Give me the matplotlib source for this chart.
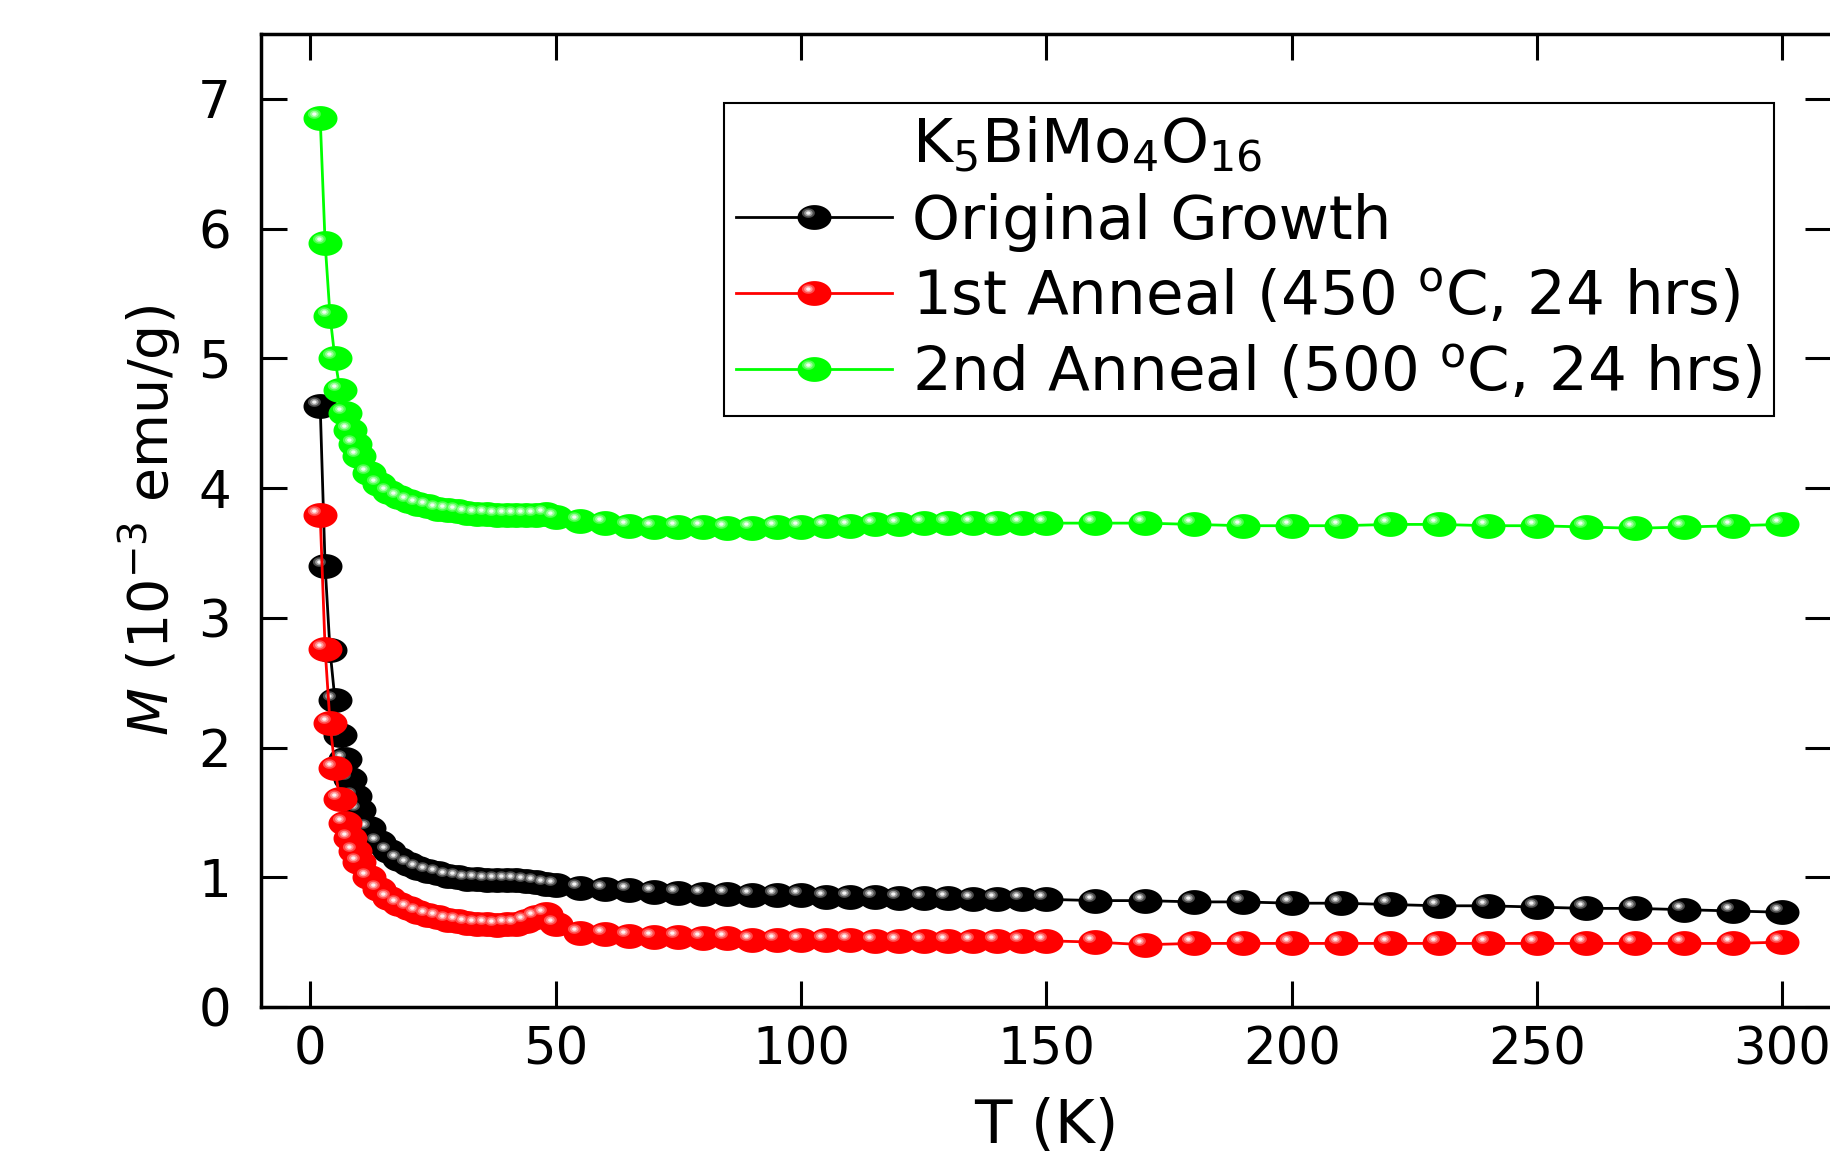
import numpy as np
import matplotlib
matplotlib.use("Agg")
import matplotlib.pyplot as plt
from matplotlib.path import Path
from matplotlib.lines import Line2D
from matplotlib.legend_handler import HandlerTuple
from matplotlib.colors import to_rgb

plt.rcParams['font.family'] = ['DejaVu Sans']
plt.rcParams['mathtext.fontset'] = 'dejavusans'

# temperature grid (K)
T = [2, 3, 4, 5, 6, 7, 8, 9, 10, 12, 14, 16, 18, 20, 22, 24, 26, 28, 30,
     32, 34, 36, 38, 40, 42, 44, 46, 48, 50,
     55, 60, 65, 70, 75, 80, 85, 90, 95, 100, 105, 110, 115, 120, 125,
     130, 135, 140, 145, 150,
     160, 170, 180, 190, 200, 210, 220, 230, 240, 250, 260, 270, 280, 290, 300]

# magnetization (10^-3 emu/g)
m_orig = [4.63, 3.40, 2.75, 2.37, 2.10, 1.91, 1.76, 1.63, 1.52, 1.38, 1.27, 1.20,
          1.14, 1.10, 1.07, 1.05, 1.03, 1.01, 1.00, 0.99, 0.99, 0.98, 0.98, 0.98,
          0.98, 0.97, 0.96, 0.95, 0.94,
          0.92, 0.91, 0.90, 0.89, 0.88, 0.87, 0.87, 0.86, 0.86, 0.86, 0.85, 0.85,
          0.85, 0.84, 0.84, 0.84, 0.83, 0.83, 0.83, 0.83,
          0.82, 0.82, 0.81, 0.81, 0.80, 0.80, 0.79, 0.78, 0.78, 0.77, 0.76, 0.76,
          0.75, 0.74, 0.73]
m_ann1 = [3.79, 2.76, 2.19, 1.84, 1.60, 1.42, 1.30, 1.20, 1.12, 1.00, 0.91, 0.84,
          0.79, 0.76, 0.73, 0.71, 0.69, 0.67, 0.66, 0.65, 0.64, 0.64, 0.63, 0.64,
          0.64, 0.66, 0.69, 0.72, 0.64,
          0.57, 0.56, 0.55, 0.54, 0.54, 0.53, 0.53, 0.52, 0.52, 0.52, 0.52, 0.52,
          0.51, 0.51, 0.51, 0.51, 0.51, 0.51, 0.51, 0.51,
          0.50, 0.48, 0.49, 0.49, 0.49, 0.49, 0.49, 0.49, 0.49, 0.49, 0.49, 0.49,
          0.49, 0.49, 0.50]
m_ann2 = [6.85, 5.89, 5.33, 5.00, 4.76, 4.58, 4.45, 4.34, 4.25, 4.12, 4.03, 3.97,
          3.93, 3.90, 3.88, 3.86, 3.84, 3.83, 3.82, 3.81, 3.80, 3.80, 3.79, 3.79,
          3.79, 3.79, 3.79, 3.80, 3.78,
          3.75, 3.73, 3.71, 3.70, 3.70, 3.70, 3.69, 3.69, 3.70, 3.70, 3.71, 3.71,
          3.72, 3.72, 3.73, 3.73, 3.73, 3.73, 3.73, 3.73,
          3.73, 3.73, 3.72, 3.71, 3.71, 3.71, 3.72, 3.72, 3.71, 3.71, 3.70, 3.69,
          3.70, 3.71, 3.72]

labels = ['Original Growth',
          '1st Anneal (450 $^\\mathrm{o}$C, 24 hrs)',
          '2nd Anneal (500 $^\\mathrm{o}$C, 24 hrs)']
colors = ['#000000', '#ff0000', '#00ff00']
series = [m_orig, m_ann1, m_ann2]


def ellipse(cx, cy, rx, ry):
    t = np.linspace(0, 2 * np.pi, 48)
    v = np.column_stack([cx + rx * np.cos(t), cy + ry * np.sin(t)])
    return Path(v, closed=True), np.abs(v).max()


def blend(c, f):
    r = np.array(to_rgb(c))
    return tuple(r + (1 - r) * f)


ms = 24.5
ball, _ = ellipse(0, 0, 1.0, 0.73)
# shaded "sphere" highlights (upper left)
spots = [ellipse(-0.36, 0.26, 0.38, 0.28) + (0.3,),
         ellipse(-0.36, 0.26, 0.25, 0.19) + (0.6,),
         ellipse(-0.36, 0.26, 0.13, 0.10) + (0.95,)]

fig = plt.figure(figsize=(18.3, 11.75), dpi=100)
ax = fig.add_axes([0.1428, 0.143, 0.858, 0.828])

handles = [Line2D([], [], ls='none', marker='')]
for i, (m, c) in enumerate(zip(series, colors)):
    z = 3 + i * 5
    ln, = ax.plot(T, m, color=c, lw=2.0, marker=ball, ms=ms,
                  mfc=c, mec='none', zorder=z)
    parts = [ln]
    for k, (p, mx, f) in enumerate(spots):
        h, = ax.plot(T, m, ls='none', marker=p, ms=ms * mx,
                     mfc=blend(c, f), mec='none', zorder=z + 1 + k)
        parts.append(h)
    handles.append(tuple(parts))

ax.set_xlim(-10, 310)
ax.set_ylim(0, 7.5)
ax.set_xticks([0, 50, 100, 150, 200, 250, 300])
ax.set_yticks([0, 1, 2, 3, 4, 5, 6, 7])
ax.tick_params(direction='in', length=19, width=2.2, top=True, right=True,
               labelsize=37)
ax.tick_params(axis='x', pad=13)
ax.tick_params(axis='y', pad=22)
for s in ax.spines.values():
    s.set_linewidth(2.5)

ax.set_xlabel('T (K)', fontsize=44, labelpad=16)
ax.set_ylabel('$M$ (10$^{-3}$ emu/g)', fontsize=40, labelpad=10)

leg = ax.legend(handles, ['K$_5$BiMo$_4$O$_{16}$'] + labels,
                loc='upper left', bbox_to_anchor=(724 / 1830, 1 - 103 / 1175),
                bbox_transform=fig.transFigure, fontsize=44, frameon=True,
                fancybox=False, edgecolor='black', framealpha=1,
                handlelength=2.55, handletextpad=0.32, labelspacing=0.28,
                borderpad=0.2, borderaxespad=0, numpoints=1,
                handler_map={tuple: HandlerTuple(ndivide=1, pad=0)})
leg.get_frame().set_linewidth(1.5)
leg.set_zorder(30)

fig.savefig('out.png', dpi=100)
